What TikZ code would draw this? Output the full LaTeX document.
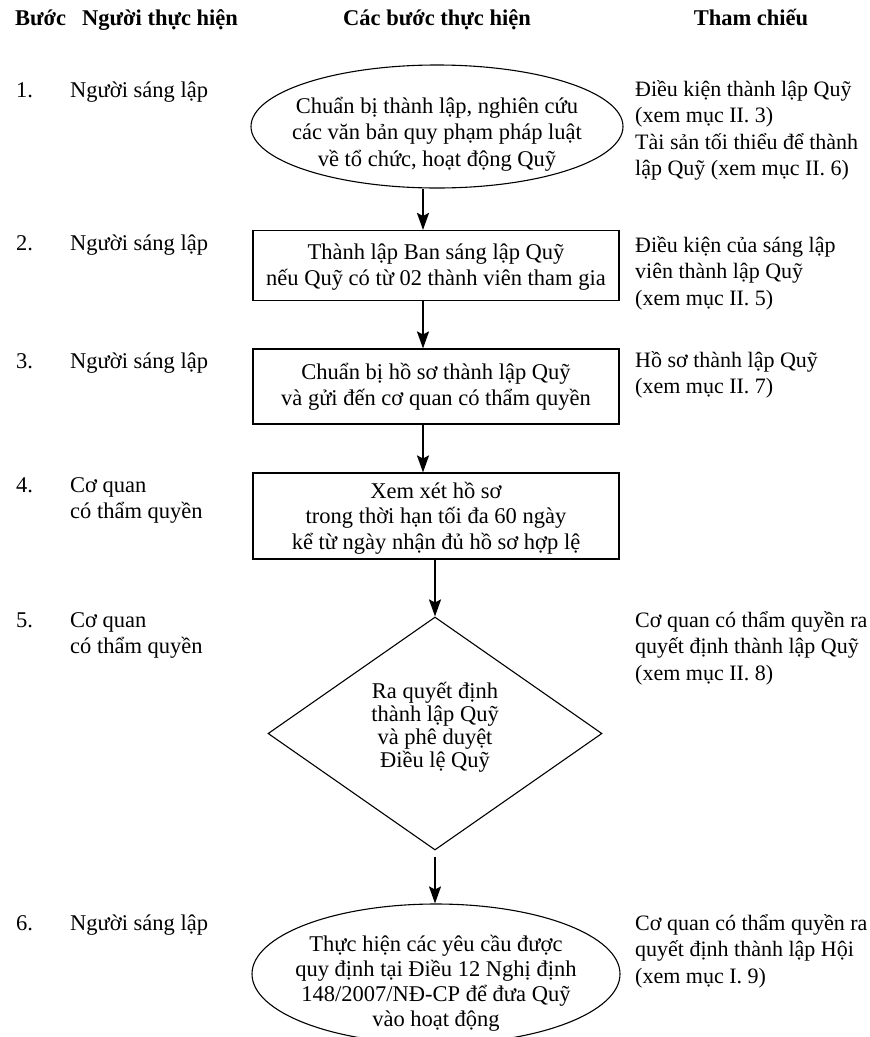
\documentclass[tikz,border=0pt]{standalone}
\usepackage{fontspec}
\setmainfont{Liberation Serif}
\usetikzlibrary{arrows.meta,shapes.geometric,positioning}

\begin{document}
\begin{tikzpicture}[
    x=1pt, y=-1pt,
    every node/.style={font=\fontsize{22.5}{26.5}\selectfont},
    head/.style={anchor=base, inner sep=0pt, font=\fontsize{22.5}{26.5}\selectfont\bfseries},
    lbl/.style={anchor=base west, inner sep=0pt, align=left},
    refs/.style={lbl, font=\fontsize{22}{26.5}\selectfont},
    stepbox/.style={draw, line width=1.1pt, minimum width=366pt, inner sep=0pt, text depth=0pt, align=center, font=\fontsize{22.5}{25.5}\selectfont},
    oval/.style={draw, ellipse, line width=1.1pt, inner xsep=-25pt, inner ysep=-3pt, text depth=0pt, align=center},
    decide/.style={draw, diamond, line width=1.1pt, inner sep=0pt, minimum width=334pt, minimum height=233pt, text depth=0pt, align=center, font=\fontsize{22.5}{23}\selectfont},
    arrow/.style={-{Stealth[length=17pt, width=12pt, inset=3pt]}, line width=2pt}
]
    \useasboundingbox (0,0) rectangle (870,1037);

    % Header row
    \node[head, anchor=base west] (hstep) at (15,25) {Bước};
    \node[head, anchor=base west] (hwho) at (82,25) {Người thực hiện};
    \node[head] (hdo) at (437,25) {Các bước thực hiện};
    \node[head] (href) at (751,25) {Tham chiếu};

    % Step 1
    \node[lbl] (n1) at (16,97) {1.};
    \node[lbl] (who1) at (70,97) {Người sáng lập};
    \node[oval, minimum width=372pt, minimum height=123pt, text height=79pt] (prep) at (437,126.5)
        {Chuẩn bị thành lập, nghiên cứu\\các văn bản quy phạm pháp luật\\về tổ chức, hoạt động Quỹ};
    \node[refs] (ref1) at (635,175.5) {Điều kiện thành lập Quỹ\\(xem mục II. 3)\\Tài sản tối thiểu để thành\\lập Quỹ (xem mục II. 6)};

    % Step 2
    \node[lbl] (n2) at (16,250) {2.};
    \node[lbl] (who2) at (70,250) {Người sáng lập};
    \node[stepbox, minimum height=70pt, text height=39pt] (board) at (436,265.5)
        {Thành lập Ban sáng lập Quỹ\\nếu Quỹ có từ 02 thành viên tham gia};
    \node[refs] (ref2) at (635,305) {Điều kiện của sáng lập\\viên thành lập Quỹ\\(xem mục II. 5)};

    % Step 3
    \node[lbl] (n3) at (16,368) {3.};
    \node[lbl] (who3) at (70,368) {Người sáng lập};
    \node[stepbox, minimum height=75pt, text height=37pt] (dossier) at (436,386.5)
        {Chuẩn bị hồ sơ thành lập Quỹ\\và gửi đến cơ quan có thẩm quyền};
    \node[refs] (ref3) at (635,393.5) {Hồ sơ thành lập Quỹ\\(xem mục II. 7)};

    % Step 4
    \node[lbl] (n4) at (16,492) {4.};
    \node[lbl] (who4) at (70,518.5) {Cơ quan\\có thẩm quyền};
    \node[stepbox, minimum height=86pt, text height=66pt] (review) at (436,516)
        {Xem xét hồ sơ\\trong thời hạn tối đa 60 ngày\\kể từ ngày nhận đủ hồ sơ hợp lệ};

    % Step 5
    \node[lbl] (n5) at (16,627) {5.};
    \node[lbl] (who5) at (70,653.5) {Cơ quan\\có thẩm quyền};
    \node[decide, text height=67pt] (decision) at (435,733.5)
        {Ra quyết định\\thành lập Quỹ\\và phê duyệt\\Điều lệ Quỹ};
    \node[refs] (ref5) at (635,680) {Cơ quan có thẩm quyền ra\\quyết định thành lập Quỹ\\(xem mục II. 8)};

    % Step 6
    \node[lbl] (n6) at (16,930) {6.};
    \node[lbl] (who6) at (70,930) {Người sáng lập};
    \node[oval, minimum width=368pt, minimum height=140pt, text height=104pt, font=\fontsize{22.5}{25}\selectfont] (launch) at (436,974)
        {Thực hiện các yêu cầu được\\quy định tại Điều 12 Nghị định\\148/2007/NĐ-CP để đưa Quỹ\\vào hoạt động};
    \node[refs] (ref6) at (635,983) {Cơ quan có thẩm quyền ra\\quyết định thành lập Hội\\(xem mục I. 9)};

    % Arrows
    \draw[arrow] ([xshift=-14pt]prep.south) -- ([xshift=-13pt]board.north);
    \draw[arrow] ([xshift=-13pt]board.south) -- ([xshift=-13pt]dossier.north);
    \draw[arrow] ([xshift=-13pt]dossier.south) -- ([xshift=-13pt]review.north);
    \draw[arrow] (review.south -| decision.north) -- (decision.north);
    \draw[arrow, shorten <=6pt] (decision.south) -- (decision.south |- launch.north);
\end{tikzpicture}
\end{document}
